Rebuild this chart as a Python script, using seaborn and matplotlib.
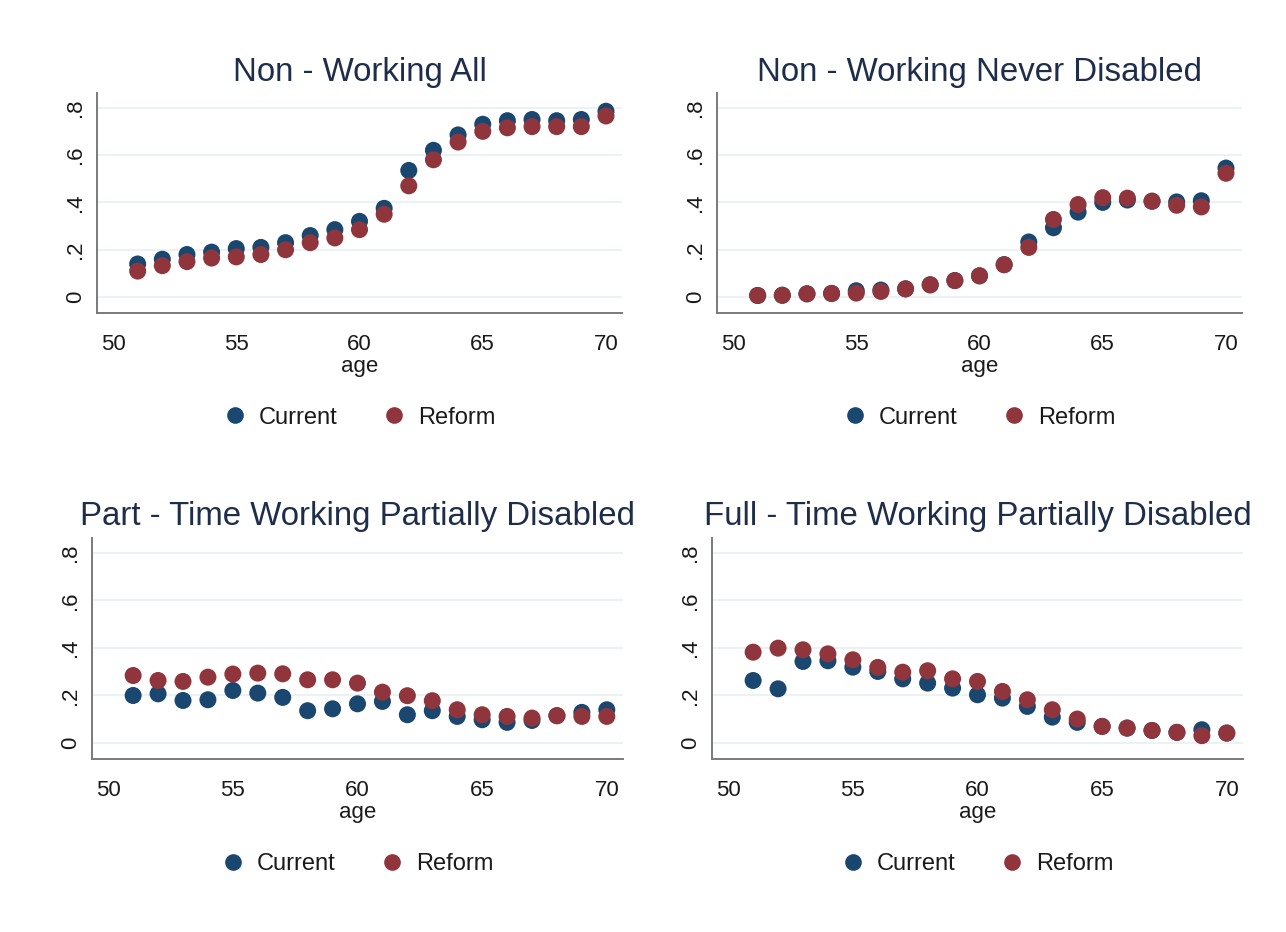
import matplotlib
matplotlib.use("Agg")
import matplotlib.pyplot as plt
from matplotlib.lines import Line2D
import numpy as np
import pandas as pd
import seaborn as sns

sns.set_style("white")
plt.rcParams["font.family"] = ["Liberation Sans", "DejaVu Sans"]

# ---- data -------------------------------------------------------------
ages = list(range(51, 71))

nw_all_current = [0.14, 0.16, 0.18, 0.19, 0.205, 0.21, 0.23, 0.26, 0.285, 0.32,
                  0.375, 0.535, 0.62, 0.685, 0.73, 0.745, 0.75, 0.745, 0.75, 0.785]
nw_all_reform = [0.11, 0.133, 0.15, 0.165, 0.17, 0.18, 0.20, 0.23, 0.25, 0.285,
                 0.35, 0.47, 0.58, 0.655, 0.70, 0.715, 0.72, 0.72, 0.72, 0.765]

nw_never_current = [0.007, 0.008, 0.014, 0.016, 0.027, 0.03, 0.035, 0.052, 0.07, 0.09,
                    0.137, 0.233, 0.293, 0.359, 0.40, 0.41, 0.405, 0.402, 0.407, 0.545]
nw_never_reform = [0.007, 0.008, 0.014, 0.015, 0.017, 0.024, 0.035, 0.052, 0.07, 0.09,
                   0.137, 0.21, 0.328, 0.391, 0.42, 0.418, 0.405, 0.388, 0.381, 0.523]

pt_partial_current = [0.20, 0.207, 0.179, 0.182, 0.221, 0.21, 0.192, 0.136, 0.144, 0.165,
                      0.175, 0.119, 0.136, 0.112, 0.098, 0.087, 0.095, 0.115, 0.129, 0.14]
pt_partial_reform = [0.284, 0.263, 0.259, 0.277, 0.29, 0.294, 0.291, 0.266, 0.266, 0.252,
                     0.214, 0.199, 0.178, 0.14, 0.119, 0.112, 0.105, 0.115, 0.112, 0.112]

ft_partial_current = [0.263, 0.228, 0.343, 0.346, 0.319, 0.301, 0.27, 0.252, 0.231, 0.203,
                      0.189, 0.154, 0.109, 0.087, 0.07, 0.063, 0.053, 0.045, 0.056, 0.042]
ft_partial_reform = [0.382, 0.399, 0.392, 0.375, 0.35, 0.318, 0.298, 0.304, 0.27, 0.259,
                     0.217, 0.182, 0.14, 0.101, 0.07, 0.063, 0.053, 0.045, 0.031, 0.042]

panel_titles = ["Non - Working All", "Non - Working Never Disabled",
                "Part - Time Working Partially Disabled",
                "Full - Time Working Partially Disabled"]
panel_series = [(nw_all_current, nw_all_reform),
                (nw_never_current, nw_never_reform),
                (pt_partial_current, pt_partial_reform),
                (ft_partial_current, ft_partial_reform)]

scenarios = ["Current", "Reform"]
x_ticks = [50, 55, 60, 65, 70]
y_ticks = [0, 0.2, 0.4, 0.6, 0.8]
y_tick_labels = ["0", ".2", ".4", ".6", ".8"]

# ---- styling ----------------------------------------------------------
palette = {"Current": "#1a476f", "Reform": "#90353b"}
grid_color = "#eaf2f3"
title_color = "#1e2d4a"
text_color = "#1a1a1a"
spine_color = "#7a7a7a"

W, H = 1286, 932
fig = plt.figure(figsize=(W / 100, H / 100), dpi=100)
fig.patch.set_facecolor("white")

# axes boxes in pixels: (left, top, right, bottom)
boxes = [(97, 93, 622, 313), (717, 93, 1242, 313),
         (92, 538, 623, 759), (712, 538, 1243, 759)]

for (l, t, r, b), title, (cur, ref) in zip(boxes, panel_titles, panel_series):
    ax = fig.add_axes([l / W, (H - b) / H, (r - l) / W, (b - t) / H])
    df = pd.DataFrame({
        "age": ages * 2,
        "share": list(cur) + list(ref),
        "scenario": ["Current"] * len(ages) + ["Reform"] * len(ages),
    })
    sns.scatterplot(data=df, x="age", y="share", hue="scenario",
                    hue_order=scenarios, palette=palette, s=150,
                    linewidth=0, legend=False, ax=ax, zorder=3)

    ax.set_xlim(49.35, 70.65)
    ax.set_ylim(-0.067, 0.862)
    ax.set_xticks(x_ticks)
    ax.set_yticks(y_ticks)
    ax.set_yticklabels(y_tick_labels, rotation=90, va="center")
    for yv in y_ticks:
        ax.axhline(yv, color=grid_color, lw=1.5, zorder=1)

    for side in ["top", "right"]:
        ax.spines[side].set_visible(False)
    for side in ["left", "bottom"]:
        ax.spines[side].set_color(spine_color)
        ax.spines[side].set_linewidth(1.4)
    ax.tick_params(axis="both", direction="out", length=5, width=1.2,
                   color="#333333", labelsize=16, labelcolor=text_color)
    ax.tick_params(axis="x", pad=10)
    ax.tick_params(axis="y", pad=3)

    ax.set_xlabel("age", fontsize=16, color=text_color, labelpad=1)
    ax.set_ylabel("")
    ax.set_title(title, fontsize=23.8, color=title_color, pad=9)

    handles = [Line2D([0], [0], marker="o", linestyle="none", markersize=12,
                      markerfacecolor=palette[s], markeredgewidth=0)
               for s in scenarios]
    ax.legend(handles, scenarios, loc="center", bbox_to_anchor=(0.5, -0.475),
              ncol=2, frameon=False, fontsize=17, handlelength=1.0,
              handletextpad=0.5, columnspacing=1.9, labelcolor=text_color)

fig.savefig("out.png", dpi=100, facecolor="white")
